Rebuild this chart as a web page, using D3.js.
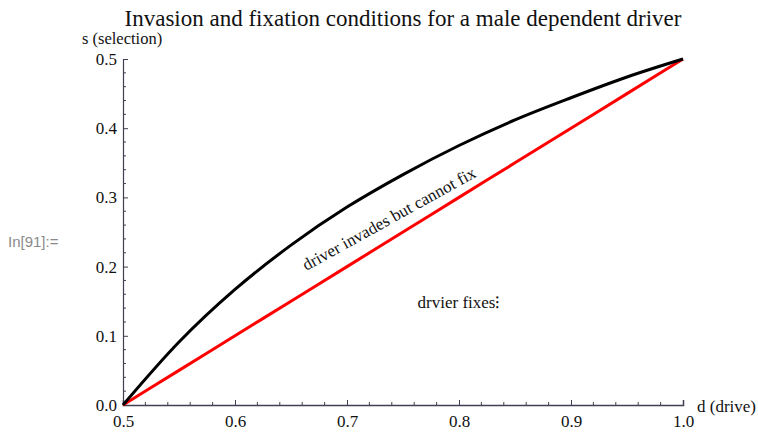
<!DOCTYPE html>
<html>
<head>
<meta charset="utf-8">
<script src="https://cdn.jsdelivr.net/npm/d3@7"></script>
<style>
  body { margin: 0; background: #fff; }
  svg { display: block; }
  text { font-family: "Liberation Serif", "DejaVu Serif", serif; fill: #111; }
</style>
</head>
<body>
<div id="chart"></div>
<script>
// data
var driveValues = [0.5, 0.55, 0.6, 0.65, 0.7, 0.75, 0.8, 0.85, 0.9, 0.95, 1.0];
var invadeBound = [0, 0.091, 0.167, 0.231, 0.286, 0.333, 0.375, 0.412, 0.444, 0.474, 0.5];
var fixBound = [0, 0.05, 0.1, 0.15, 0.2, 0.25, 0.3, 0.35, 0.4, 0.45, 0.5];
var xTicks = [0.5, 0.6, 0.7, 0.8, 0.9, 1.0];
var yTicks = [0.0, 0.1, 0.2, 0.3, 0.4, 0.5];

var width = 758, height = 432;
var svg = d3.select("#chart").append("svg")
    .attr("width", width)
    .attr("height", height);

var x = d3.scaleLinear().domain([0.5, 1.0]).range([123, 683]);
var y = d3.scaleLinear().domain([0, 0.5]).range([405, 59]);

var axisColor = "#404052";
var serif = "'Liberation Serif', 'DejaVu Serif', serif";

// x axis (ticks point inward / up)
var xAxis = d3.axisBottom(x)
    .tickValues(xTicks)
    .tickSize(-5)
    .tickPadding(10)
    .tickFormat(d3.format(".1f"));
var gx = svg.append("g").attr("transform", "translate(0," + y(0) + ")").call(xAxis);
gx.select(".domain").attr("stroke", axisColor).attr("stroke-width", 1.5);
gx.selectAll(".tick line").attr("stroke", axisColor);
gx.selectAll(".tick text").style("font-size", "17px").style("font-family", serif).style("fill", "#111");
// minor ticks
svg.append("g").selectAll("line")
    .data(d3.range(0.52, 1.0, 0.02).filter(function (d) { return Math.abs(d * 10 - Math.round(d * 10)) > 0.01; }))
    .enter().append("line")
    .attr("x1", function (d) { return x(d); })
    .attr("x2", function (d) { return x(d); })
    .attr("y1", y(0))
    .attr("y2", y(0) - 3)
    .attr("stroke", axisColor);

// y axis (ticks point inward / right)
var yAxis = d3.axisLeft(y)
    .tickValues(yTicks)
    .tickSize(-5)
    .tickPadding(6)
    .tickFormat(d3.format(".1f"));
var gy = svg.append("g").attr("transform", "translate(" + x(0.5) + ",0)").call(yAxis);
gy.select(".domain").attr("stroke", axisColor).attr("stroke-width", 1.2);
gy.selectAll(".tick line").attr("stroke", axisColor);
gy.selectAll(".tick text").style("font-size", "17px").style("font-family", serif).style("fill", "#111");
svg.append("g").selectAll("line")
    .data(d3.range(0.02, 0.5, 0.02).filter(function (d) { return Math.abs(d * 10 - Math.round(d * 10)) > 0.01; }))
    .enter().append("line")
    .attr("x1", x(0.5))
    .attr("x2", x(0.5) + 3)
    .attr("y1", function (d) { return y(d); })
    .attr("y2", function (d) { return y(d); })
    .attr("stroke", axisColor);

// curves
var line = d3.line()
    .x(function (d) { return x(d[0]); })
    .y(function (d) { return y(d[1]); })
    .curve(d3.curveMonotoneX);

svg.append("path")
    .datum(d3.zip(driveValues, fixBound))
    .attr("d", line)
    .attr("fill", "none")
    .attr("stroke", "#ff0000")
    .attr("stroke-width", 3);

svg.append("path")
    .datum(d3.zip(driveValues, invadeBound))
    .attr("d", line)
    .attr("fill", "none")
    .attr("stroke", "#000")
    .attr("stroke-width", 3);

// labels
svg.append("text")
    .attr("x", 403).attr("y", 26)
    .attr("text-anchor", "middle")
    .style("font-size", "23px")
    .text("Invasion and fixation conditions for a male dependent driver");

svg.append("text")
    .attr("x", 82).attr("y", 44)
    .style("font-size", "16.5px")
    .text("s (selection)");

svg.append("text")
    .attr("x", 697).attr("y", 412)
    .style("font-size", "17px")
    .text("d (drive)");

svg.append("text")
    .attr("transform", "translate(" + x(0.74) + "," + y(0.262) + ") rotate(-29)")
    .attr("text-anchor", "middle")
    .style("font-size", "17px")
    .text("driver invades but cannot fix");

svg.append("text")
    .attr("x", x(0.8)).attr("y", y(0.14))
    .attr("text-anchor", "middle")
    .style("font-size", "17px")
    .text("drvier fixes⁝");

svg.append("text")
    .attr("x", 8).attr("y", 247)
    .style("font-size", "15px")
    .style("font-family", "'Liberation Sans', Arial, sans-serif")
    .style("fill", "#8a8a8a")
    .text("In[91]:=");
</script>
</body>
</html>
